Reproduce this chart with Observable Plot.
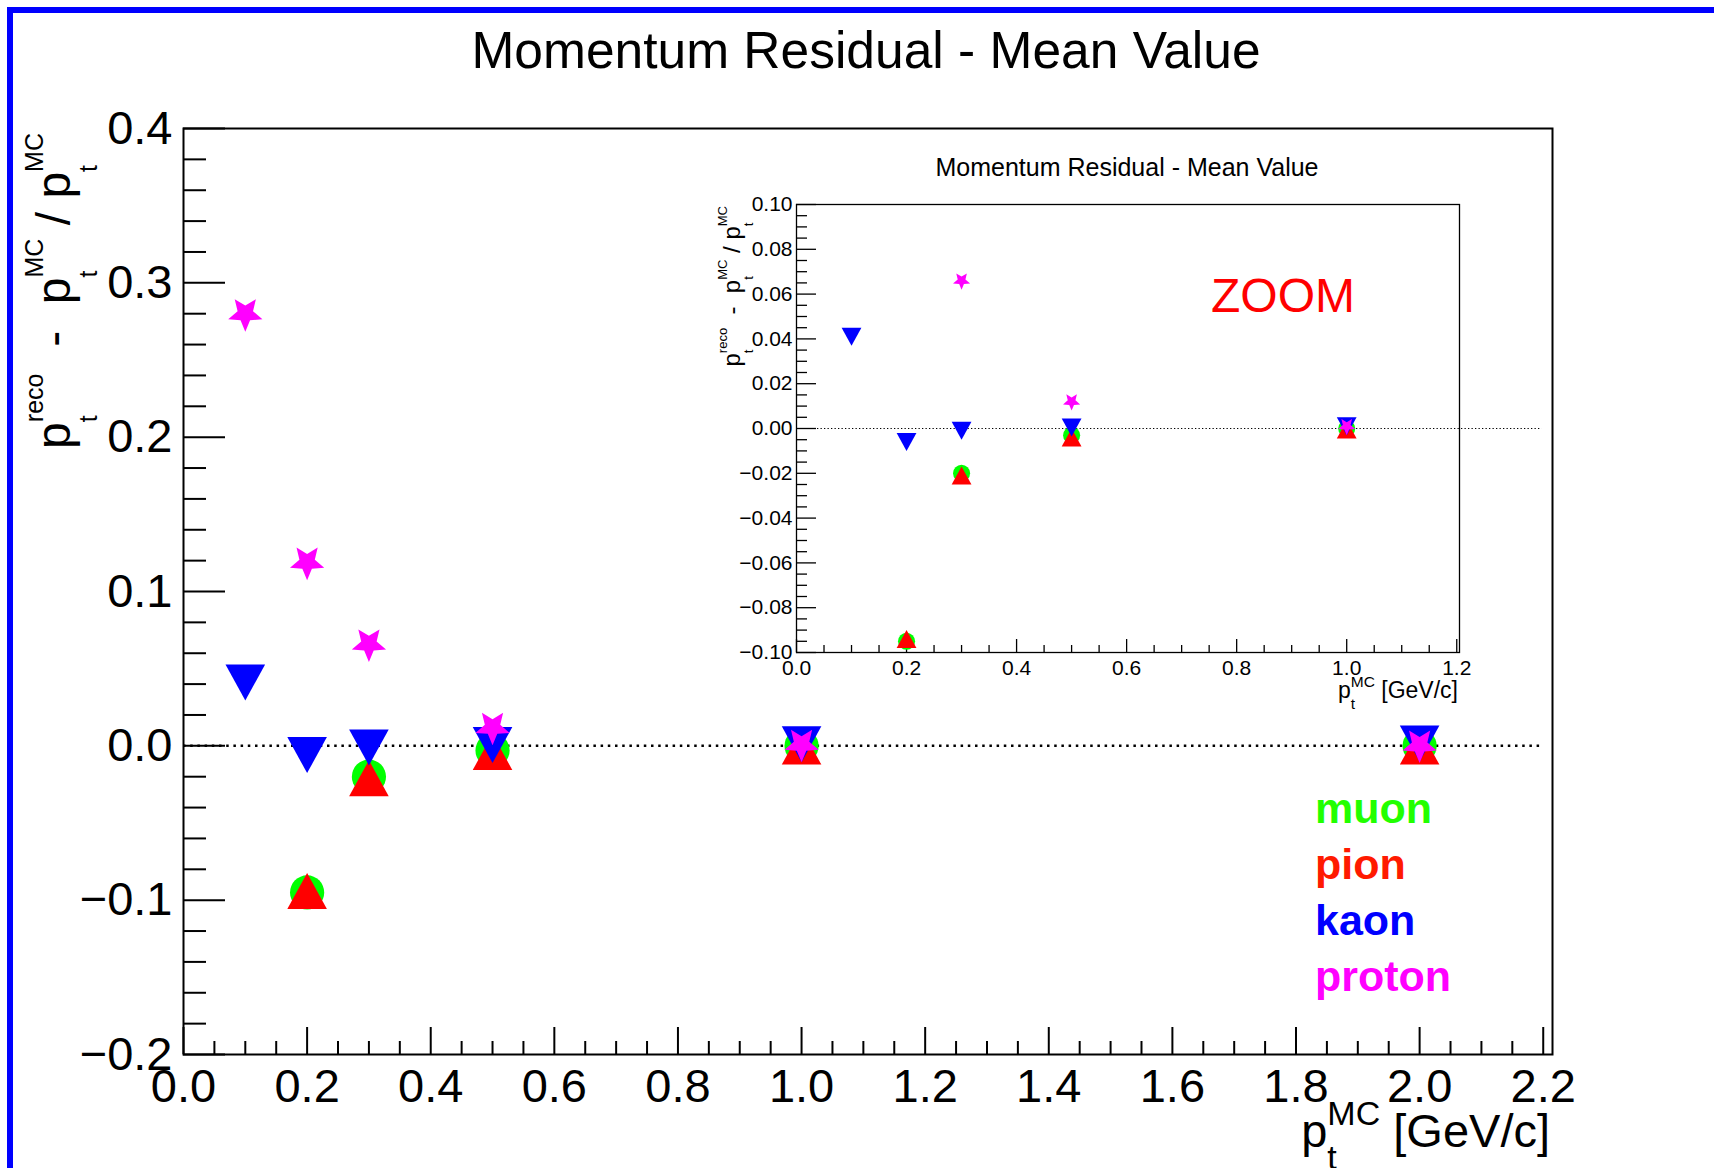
<!DOCTYPE html>
<html>
<head>
<meta charset="utf-8">
<script src="https://cdn.jsdelivr.net/npm/d3@7"></script>
<script src="https://cdn.jsdelivr.net/npm/@observablehq/plot@0.6"></script>
<style>
  html, body { margin: 0; padding: 0; background: #fff; overflow: hidden; }
  #chart { position: relative; width: 1714px; height: 1168px; overflow: hidden; background: #fff; }
</style>
</head>
<body>
<div id="chart"></div>
<script>
// Generated transverse momentum of the tracks [GeV/c]
const ptMC = [0.1, 0.2, 0.3, 0.5, 1.0, 2.0];

// Mean of (pt_reco - pt_MC) / pt_MC for each particle species
const muon   = [null, -0.095, -0.020, -0.003,  0.000,   0.000];
const pion   = [null, -0.094, -0.021, -0.004, -0.0005, -0.0005];
const kaon   = [0.041, -0.006, -0.001, 0.0005, 0.001,  0.0015];
const proton = [0.280,  0.119,  0.066, 0.012,  0.001,  0.0005];

const species      = ["muon", "pion", "kaon", "proton"];
const markerColors = ["#00ff00", "#ff0000", "#0000ff", "#ff00ff"];
const legendColors = ["#22ff00", "#ff1a00", "#0000ff", "#ff00ff"];
const seriesValues = [muon, pion, kaon, proton];

const titleText = "Momentum Residual - Mean Value";
const zoomText = "ZOOM";

// Axis tick values
const mainXMajor = d3.range(0, 12).map(i => i / 5);                                  // 0.0 … 2.2
const mainXMinor = d3.range(0, 45).filter(i => i % 4 !== 0).map(i => i / 20);
const mainYMajor = d3.range(-2, 5).map(i => i / 10);                                 // -0.2 … 0.4
const mainYMinor = d3.range(-10, 21).filter(i => i % 5 !== 0).map(i => i / 50);
const insetXMajor = d3.range(0, 7).map(i => i / 5);                                  // 0.0 … 1.2
const insetXMinor = d3.range(0, 25).filter(i => i % 4 !== 0).map(i => i / 20);
const insetYMajor = d3.range(-5, 6).map(i => i / 50);                                // -0.10 … 0.10
const insetYMinor = d3.range(-20, 21).filter(i => i % 4 !== 0).map(i => i / 200);

const FONT = "'Liberation Sans', Arial, Helvetica, sans-serif";

// ROOT-style filled markers as d3 symbol objects
const circleSym = { draw(ctx, size) { const r = Math.sqrt(size / Math.PI) * 0.95; ctx.moveTo(r, 0); ctx.arc(0, 0, r, 0, 2 * Math.PI); ctx.closePath(); } };
const triUpSym = { draw(ctx, size) { const r = Math.sqrt(size / Math.PI), w = r * 1.1; ctx.moveTo(-w, r); ctx.lineTo(w, r); ctx.lineTo(0, -r); ctx.closePath(); } };
const triDownSym = { draw(ctx, size) { const r = Math.sqrt(size / Math.PI), w = r * 1.1; ctx.moveTo(-w, -r); ctx.lineTo(w, -r); ctx.lineTo(0, r); ctx.closePath(); } };
const starSym = { draw(ctx, size) {
  const R = Math.sqrt(size / Math.PI), ri = R * 0.45;
  for (let k = 0; k < 10; k++) {
    const a = Math.PI / 2 + k * Math.PI / 5, rad = k % 2 ? ri : R;
    const px = rad * Math.cos(a), py = rad * Math.sin(a);
    if (k === 0) ctx.moveTo(px, py); else ctx.lineTo(px, py);
  }
  ctx.closePath();
} };
const symbols = [circleSym, triUpSym, triDownSym, starSym];

const rowsFor = vals => ptMC.map((x, i) => ({ x, y: vals[i] })).filter(d => d.y != null);

function markerMarks(r, keep = () => true) {
  return seriesValues.map((vals, s) =>
    Plot.dot(rowsFor(vals).filter(keep), { x: "x", y: "y", symbol: symbols[s], fill: markerColors[s], r })
  );
}

const chart = document.getElementById("chart");

// ---- main pad ----
const M = { width: 1714, height: 1168, left: 183, right: 162, top: 128, bottom: 114 };
const mFW = M.width - M.left - M.right, mFH = M.height - M.top - M.bottom;
const mainPlot = Plot.plot({
  width: M.width, height: M.height,
  marginLeft: M.left, marginRight: M.right, marginTop: M.top, marginBottom: M.bottom,
  x: { domain: [0, 2.215] },
  y: { domain: [-0.2, 0.4] },
  style: { fontFamily: FONT, fontSize: "47px", background: "transparent", overflow: "visible", color: "#000" },
  marks: [
    Plot.ruleY([0], { x1: 0, x2: 2.2, strokeDasharray: "2.5,4.7", strokeWidth: 2.5 }),
    Plot.tickY(mainYMinor, { y: d => d, insetRight: mFW - 23, strokeWidth: 2 }),
    Plot.tickY(mainYMajor, { y: d => d, insetRight: mFW - 42, strokeWidth: 2 }),
    Plot.tickX(mainXMinor, { x: d => d, insetTop: mFH - 13, strokeWidth: 2 }),
    Plot.tickX(mainXMajor, { x: d => d, insetTop: mFH - 27, strokeWidth: 2 }),
    Plot.axisY({ ticks: mainYMajor, tickSize: 0, tickPadding: 11, tickFormat: d3.format(".1f"), label: null }),
    Plot.axisX({ ticks: mainXMajor, tickSize: 0, tickPadding: 14, tickFormat: d3.format(".1f"), label: null }),
    Plot.frame({ stroke: "#000", strokeWidth: 2 }),
    ...markerMarks(18)
  ]
});
mainPlot.style.position = "absolute";
mainPlot.style.left = "0px";
mainPlot.style.top = "0px";
chart.appendChild(mainPlot);

// ---- zoomed inset pad ----
const I = { left: 700, top: 130, width: 900, height: 620, mL: 96, mR: 141, mT: 74, mB: 98 };
const iFW = I.width - I.mL - I.mR, iFH = I.height - I.mT - I.mB;
const iX = [0, 1.205], iY = [-0.1, 0.1];
const insetPlot = Plot.plot({
  width: I.width, height: I.height,
  marginLeft: I.mL, marginRight: I.mR, marginTop: I.mT, marginBottom: I.mB,
  x: { domain: iX },
  y: { domain: iY },
  style: { fontFamily: FONT, fontSize: "21px", background: "transparent", overflow: "visible", color: "#000" },
  marks: [
    Plot.ruleY([0], { x1: 0, x2: 1.355, strokeDasharray: "1.3,2.2", strokeWidth: 1.2 }),
    Plot.tickY(insetYMinor, { y: d => d, insetRight: iFW - 11, strokeWidth: 1.3 }),
    Plot.tickY(insetYMajor, { y: d => d, insetRight: iFW - 20, strokeWidth: 1.3 }),
    Plot.tickX(insetXMinor, { x: d => d, insetTop: iFH - 7, strokeWidth: 1.3 }),
    Plot.tickX(insetXMajor, { x: d => d, insetTop: iFH - 13, strokeWidth: 1.3 }),
    Plot.axisY({ ticks: insetYMajor, tickSize: 0, tickPadding: 4, tickFormat: d3.format(".2f"), label: null }),
    Plot.axisX({ ticks: insetXMajor, tickSize: 0, tickPadding: 8, tickFormat: d3.format(".1f"), label: null }),
    Plot.frame({ stroke: "#000", strokeWidth: 1.3 }),
    ...markerMarks(9, d => d.x <= iX[1] && d.y >= iY[0] && d.y <= iY[1])
  ]
});
insetPlot.style.position = "absolute";
insetPlot.style.left = I.left + "px";
insetPlot.style.top = I.top + "px";
chart.appendChild(insetPlot);

// ---- text layer: titles, axis titles, legend ----
const ov = d3.select(chart).append("svg")
  .attr("width", 1714).attr("height", 1168)
  .style("position", "absolute").style("left", "0px").style("top", "0px")
  .attr("font-family", FONT);

// canvas border
ov.append("path").attr("d", "M10,1168V10H1714").attr("fill", "none").attr("stroke", "#0000ff").attr("stroke-width", 6);

ov.append("text").attr("x", 866).attr("y", 68).attr("text-anchor", "middle").attr("font-size", 51.5).text(titleText);
ov.append("text").attr("x", 1127).attr("y", 176).attr("text-anchor", "middle").attr("font-size", 25).text(titleText);
ov.append("text").attr("x", 1211).attr("y", 312).attr("font-size", 48).attr("fill", "#ff0000").text(zoomText);

species.forEach((name, i) => {
  ov.append("text").attr("x", 1315).attr("y", 823 + i * 56)
    .attr("font-size", 43).attr("font-weight", "bold").attr("fill", legendColors[i]).text(name);
});

// Right-aligned TLatex-like run: base glyphs with stacked superscript/subscript
function latex(parent, { x, y, rotate = 0, size, scriptSize, shift, parts }) {
  const g = parent.append("g").attr("transform", `translate(${x},${y}) rotate(${rotate})`);
  let cx = 0;
  const put = (str, px, py, fs) => {
    const t = g.append("text").attr("x", px).attr("y", py).attr("font-size", fs)
      .attr("xml:space", "preserve").style("white-space", "pre").text(str);
    return t.node().getComputedTextLength();
  };
  for (const p of parts) {
    if (typeof p === "string") { cx += put(p, cx, 0, size); continue; }
    cx += put(p.base, cx, 0, size);
    const a = p.sup ? put(p.sup, cx, -shift, scriptSize) : 0;
    const b = p.sub ? put(p.sub, cx, shift, scriptSize) : 0;
    cx += Math.max(a, b);
  }
  g.selectAll("text").attr("x", function () { return +this.getAttribute("x") - cx; });
}

const yTitle = [{ base: "p", sup: "reco", sub: "t" }, "  -  ", { base: "p", sup: "MC", sub: "t" }, " / ", { base: "p", sup: "MC", sub: "t" }];
const xTitle = [{ base: "p", sup: "MC", sub: "t" }, " [GeV/c]"];

latex(ov, { x: 70, y: 133, rotate: -90, size: 48, scriptSize: 25, shift: 27, parts: yTitle });
latex(ov, { x: 1550, y: 1147, size: 47, scriptSize: 34, shift: 22, parts: xTitle });
latex(ov, { x: 740, y: 206, rotate: -90, size: 24, scriptSize: 13, shift: 13, parts: yTitle });
latex(ov, { x: 1458, y: 698, size: 23, scriptSize: 15.5, shift: 11, parts: xTitle });
</script>
</body>
</html>
